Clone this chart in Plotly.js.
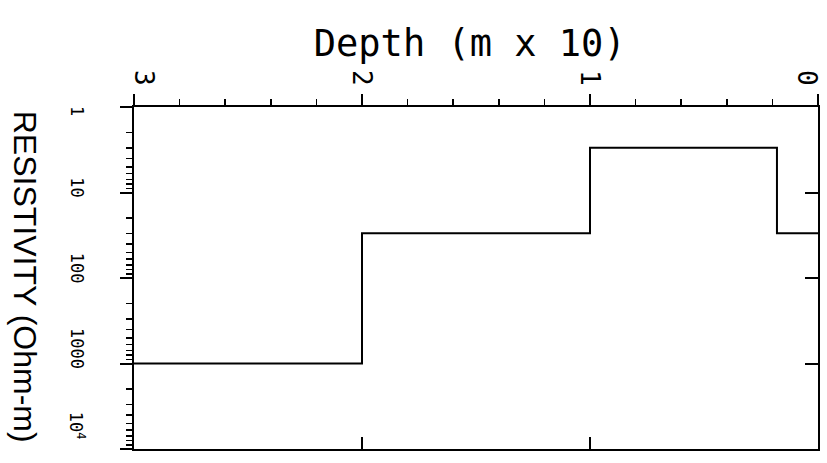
<!DOCTYPE html>
<html><head><meta charset="utf-8">
<script src="https://cdn.plot.ly/plotly-3.0.1.min.js"></script>
<style>html,body{margin:0;padding:0;background:#fff}#chart{width:827px;height:463px}</style>
</head><body><div id="chart"></div>
<script>
// Layer model: top of each layer (depth, m x 10) and its resistivity (Ohm-m)
const depthTop = [3, 2, 1, 0.18, 0];
const resistivity = [1000, 30, 3, 30, 30];
const depthTicks = [3, 2, 1, 0];
const depthTickText = ['3', '2', '1', '0'];
const bottomTicks = [2, 1];
const resTicks = [1, 10, 100, 1000, 10000];
const resTickText = ['1', '10', '100', '1000', '10<sup>4</sup>'];
const resDigits = [2, 3, 4, 5, 6, 7, 8, 9];

const resMinor = [];
resTicks.slice(0, -1).forEach(d => resDigits.forEach(k => resMinor.push(d * k)));

const black = '#000';
const monoFont = 'DejaVu Sans Mono, monospace';
const yLabSize = 17;

const traces = [
  {x: depthTop, y: resistivity, mode: 'lines', line: {shape: 'hv', color: black, width: 2}, hoverinfo: 'skip', showlegend: false},
  {x: [depthTicks[0]], y: [resTicks[0]], xaxis: 'x2', yaxis: 'y2', mode: 'markers', marker: {opacity: 0}, hoverinfo: 'skip', showlegend: false}
];

// y tick labels: rotated text, ending a few pixels past the tick, kept inside the frame
const yLabelAnns = resTicks.map((v, i) => {
  const plain = resTickText[i].replace(/<[^>]+>/g, '');
  const half = plain.length * yLabSize * 0.6 / 2;
  let shift = half - 5;
  if (i === 0) shift = half - 9;
  if (i === resTicks.length - 1) shift = half + 8;
  return {
    text: resTickText[i], xref: 'paper', x: -0.0833, yref: 'y', y: Math.log10(v),
    xanchor: 'center', yanchor: 'middle', yshift: shift, textangle: 90, showarrow: false,
    font: {family: monoFont, size: yLabSize, color: black}
  };
});

// x tick labels (top), end labels nudged inside the frame
const xLabelAnns = depthTicks.map((v, i) => ({
  text: depthTickText[i], xref: 'x', x: v, yref: 'paper', y: 1.0848,
  xanchor: 'center', yanchor: 'middle', textangle: 90, showarrow: false,
  xshift: i === 0 ? 10 : (i === depthTicks.length - 1 ? -11 : 0),
  font: {family: monoFont, size: 26, color: black}
}));

const layout = {
  width: 827, height: 463,
  margin: {l: 134, r: 9, t: 107, b: 14},
  paper_bgcolor: '#fff', plot_bgcolor: '#fff',
  showlegend: false,
  title: {text: 'Depth (m x 10)', font: {family: monoFont, size: 37, color: black},
          xref: 'container', yref: 'container', x: 0.568, y: 0.907, xanchor: 'center', yanchor: 'middle'},
  xaxis: {range: [3, 0], side: 'top', tickmode: 'array', tickvals: depthTicks, showticklabels: false,
          ticks: 'outside', ticklen: 11, tickwidth: 2, tickcolor: black,
          showline: true, linewidth: 2, linecolor: black, showgrid: false, zeroline: false,
          minor: {dtick: 0.2, tick0: 0, ticks: 'outside', ticklen: 6, tickwidth: 1.5, tickcolor: black, showgrid: false}},
  yaxis: {type: 'log', range: [4, 0], tickmode: 'array', tickvals: resTicks, showticklabels: false,
          ticks: 'outside', ticklen: 12, tickwidth: 2, tickcolor: black,
          showline: true, linewidth: 2, linecolor: black, showgrid: false, zeroline: false,
          minor: {tickmode: 'array', tickvals: resMinor, ticks: 'outside', ticklen: 6, tickwidth: 1.5, tickcolor: black, showgrid: false}},
  xaxis2: {overlaying: 'x', anchor: 'y2', side: 'bottom', range: [3, 0], tickmode: 'array', tickvals: bottomTicks,
           ticks: 'inside', ticklen: 12, tickwidth: 2, tickcolor: black, showticklabels: false,
           showline: true, linewidth: 2, linecolor: black, showgrid: false, zeroline: false},
  yaxis2: {overlaying: 'y', anchor: 'x2', side: 'right', type: 'log', range: [4, 0], tickmode: 'array', tickvals: resTicks,
           ticks: 'inside', ticklen: 13, tickwidth: 2, tickcolor: black, showticklabels: false,
           showline: true, linewidth: 2, linecolor: black, showgrid: false, zeroline: false},
  annotations: [
    {text: 'RESISTIVITY (Ohm-m)', xref: 'paper', yref: 'paper', x: -0.159, y: 0.503,
     xanchor: 'center', yanchor: 'middle', textangle: 90, showarrow: false,
     font: {family: 'Liberation Sans, Arial, sans-serif', size: 32, color: black}}
  ].concat(yLabelAnns, xLabelAnns)
};

Plotly.newPlot('chart', traces, layout, {displayModeBar: false, staticPlot: true});
</script>
</body></html>
